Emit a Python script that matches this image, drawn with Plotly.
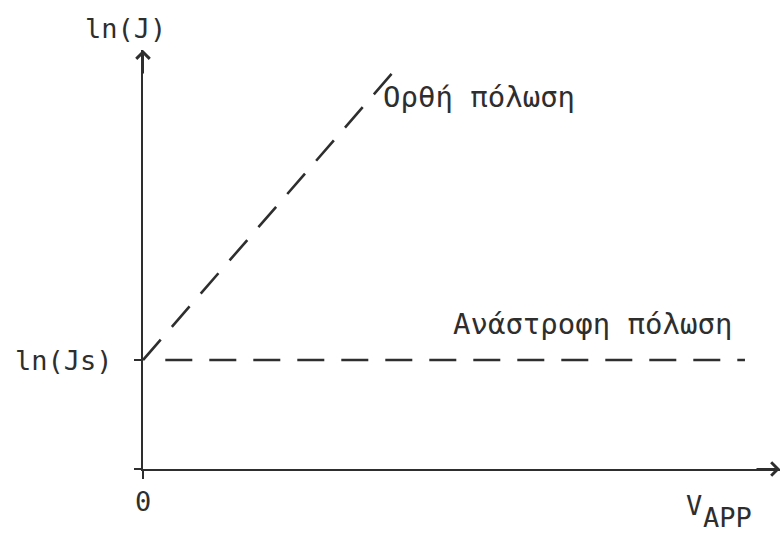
import plotly.graph_objects as go

# Diode current–voltage characteristic on a log scale (schematic)
LN_JS = 2.6                      # ln(Js): saturation current level

forward_v = [0.0, 4.0]           # forward bias: ln(J) rises linearly with V
forward_lnj = [LN_JS, 9.6]

reverse_v = [0.35, 9.45]         # reverse bias: ln(J) stays at ln(Js)
reverse_lnj = [LN_JS, LN_JS]

x_ticks = [0.0]
x_tick_text = ["0"]
y_ticks = [0.0, LN_JS]
y_tick_text = ["", "ln(Js)"]

INK = "#2e2e2e"
FONT = "DejaVu Sans Mono"
W, H = 782, 533
M_L, M_R, M_T, M_B = 143, 2, 50, 64
X_RANGE = [0, 10]
Y_RANGE = [0, 10]


def paper_x(px):
    """Horizontal pixel -> paper fraction of the plot area."""
    return (px - M_L) / (W - M_L - M_R)


def paper_y(py):
    """Vertical pixel -> paper fraction of the plot area."""
    return (H - M_B - py) / (H - M_T - M_B)


dash = "27px,17px"

fig = go.Figure()
fig.add_trace(go.Scatter(
    x=forward_v, y=forward_lnj, mode="lines",
    line=dict(color=INK, width=2.6, dash=dash),
    cliponaxis=False, hoverinfo="skip", showlegend=False,
))
fig.add_trace(go.Scatter(
    x=reverse_v, y=reverse_lnj, mode="lines",
    line=dict(color=INK, width=2.6, dash=dash),
    cliponaxis=False, hoverinfo="skip", showlegend=False,
))

axis_common = dict(
    showgrid=False, zeroline=False, showline=True,
    linecolor=INK, linewidth=2,
    ticks="outside", tickwidth=2, tickcolor=INK,
    tickmode="array", tickfont=dict(family=FONT, size=27, color=INK),
)

fig.update_xaxes(
    range=X_RANGE, tickvals=x_ticks, ticktext=x_tick_text,
    ticklen=8, ticklabelstandoff=0, **axis_common,
)
fig.update_yaxes(
    range=Y_RANGE, tickvals=y_ticks, ticktext=y_tick_text,
    ticklen=7, ticklabelstandoff=16, **axis_common,
)

annotations = []
# arrowheads at the ends of both axes
annotations.append(dict(
    x=X_RANGE[1], y=Y_RANGE[0], xref="x", yref="y", ax=-25, ay=0,
    text="", showarrow=True, arrowhead=4, arrowsize=1.3, arrowwidth=2,
    arrowcolor=INK,
))
annotations.append(dict(
    x=X_RANGE[0], y=Y_RANGE[1], xref="x", yref="y", ax=0, ay=25,
    text="", showarrow=True, arrowhead=4, arrowsize=1.3, arrowwidth=2,
    arrowcolor=INK,
))


def label(text, px, py, size=27, xanchor="left"):
    annotations.append(dict(
        x=paper_x(px), y=paper_y(py), xref="paper", yref="paper", text=text,
        showarrow=False, xanchor=xanchor, yanchor="middle",
        font=dict(family=FONT, size=size, color=INK),
    ))


label("ln(J)", 125, 29, xanchor="center")
label("Ορθή πόλωση", 381, 97, size=29)
label("Ανάστροφη πόλωση", 451, 324, size=29)
label("V", 684, 505)
label("APP", 701, 517)

fig.update_layout(
    width=W, height=H,
    margin=dict(l=M_L, r=M_R, t=M_T, b=M_B),
    paper_bgcolor="white", plot_bgcolor="white",
    annotations=annotations,
    showlegend=False,
)

fig.write_html("out.html")
